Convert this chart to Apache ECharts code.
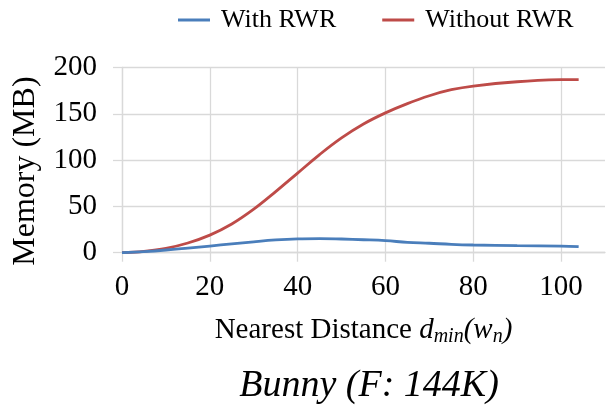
<!DOCTYPE html>
<html>
<head>
<meta charset="utf-8">
<script src="https://cdn.jsdelivr.net/npm/echarts@6/dist/echarts.min.js"></script>
<style>
html,body{margin:0;padding:0;background:#fff;}
#chart{width:609px;height:410px;}
</style>
</head>
<body>
<div id="chart"></div>
<script>
const xValues = [0, 5, 10, 15, 20, 25, 30, 35, 40, 45, 50, 55, 60, 65, 70, 75, 80, 90, 100, 104];
const withRWR = [0, 1.2, 2.9, 5, 7.2, 9.5, 11.8, 13.8, 15, 15.3, 14.8, 14, 13, 11.2, 10.2, 9, 8.3, 7.6, 7.2, 6.6];
const withoutRWR = [0, 1.5, 4.7, 10.5, 19, 31, 47, 66, 86, 106, 124, 139, 151, 161, 169.5, 176, 180, 184.6, 186.8, 187];
const seriesNames = ['With RWR', 'Without RWR'];
const xTicks = [0, 20, 40, 60, 80, 100];
const yTicks = [0, 50, 100, 150, 200];
const chartTitle = 'Bunny (F: 144K)';
const yTitle = 'Memory (MB)';

const serif = '"Liberation Serif", "Times New Roman", serif';
const gridColor = '#d9d9d9';
const chart = echarts.init(document.getElementById('chart'), null, {renderer: 'canvas'});

function pairs(ys) { return xValues.map((x, i) => [x, ys[i]]); }

chart.setOption({
  animation: false,
  title: {
    text: chartTitle,
    left: 364, top: 362,
    textAlign: 'center',
    textStyle: {fontFamily: serif, fontStyle: 'italic', fontWeight: 'normal', fontSize: 38, color: '#000'}
  },
  legend: {
    top: 2, left: 173,
    itemWidth: 32, itemHeight: 3, itemGap: 46,
    icon: 'rect',
    textStyle: {fontFamily: serif, fontSize: 26, color: '#000', padding: [0, 0, 0, 6]},
    data: seriesNames
  },
  grid: {left: 122, right: 4, top: 67.5, bottom: 157.3, containLabel: false},
  xAxis: {
    type: 'value', min: 0, max: 110, interval: 20,
    name: 'Nearest Distance {i|d}{sub|min}{i|(w}{sub|n}{i|)}',
    nameLocation: 'middle', nameGap: 62,
    nameTextStyle: {
      fontFamily: serif, fontSize: 29, color: '#000',
      rich: {
        i: {fontFamily: serif, fontSize: 29, fontStyle: 'italic', color: '#000'},
        sub: {fontFamily: serif, fontSize: 20, fontStyle: 'italic', color: '#000', padding: [12, 0, 0, 0]}
      }
    },
    axisLine: {show: true, lineStyle: {color: gridColor, width: 1.3}},
    axisTick: {show: true, length: 9, lineStyle: {color: gridColor, width: 1.3}, customValues: xTicks},
    axisLabel: {fontFamily: serif, fontSize: 29, color: '#000', margin: 20, customValues: xTicks},
    splitLine: {show: true, lineStyle: {color: gridColor, width: 1.3}}
  },
  yAxis: {
    type: 'value', min: 0, max: 200, interval: 50,
    name: yTitle, nameLocation: 'middle', nameGap: 80,
    nameTextStyle: {fontFamily: serif, fontSize: 32, color: '#000', padding: [0, 22, 0, 0]},
    axisLine: {show: true, lineStyle: {color: gridColor, width: 1.3}},
    axisTick: {show: true, length: 9, lineStyle: {color: gridColor, width: 1.3}, customValues: yTicks},
    axisLabel: {fontFamily: serif, fontSize: 29, color: '#000', margin: 25, customValues: yTicks},
    splitLine: {show: true, lineStyle: {color: gridColor, width: 1.3}}
  },
  series: [
    {name: seriesNames[0], type: 'line', smooth: 0.4, showSymbol: false, symbol: 'none',
     data: pairs(withRWR), lineStyle: {color: '#4A7EBB', width: 2.8}, itemStyle: {color: '#4A7EBB'}, z: 3},
    {name: seriesNames[1], type: 'line', smooth: 0.4, showSymbol: false, symbol: 'none',
     data: pairs(withoutRWR), lineStyle: {color: '#BE4B48', width: 2.8}, itemStyle: {color: '#BE4B48'}, z: 2}
  ]
});
</script>
</body>
</html>
